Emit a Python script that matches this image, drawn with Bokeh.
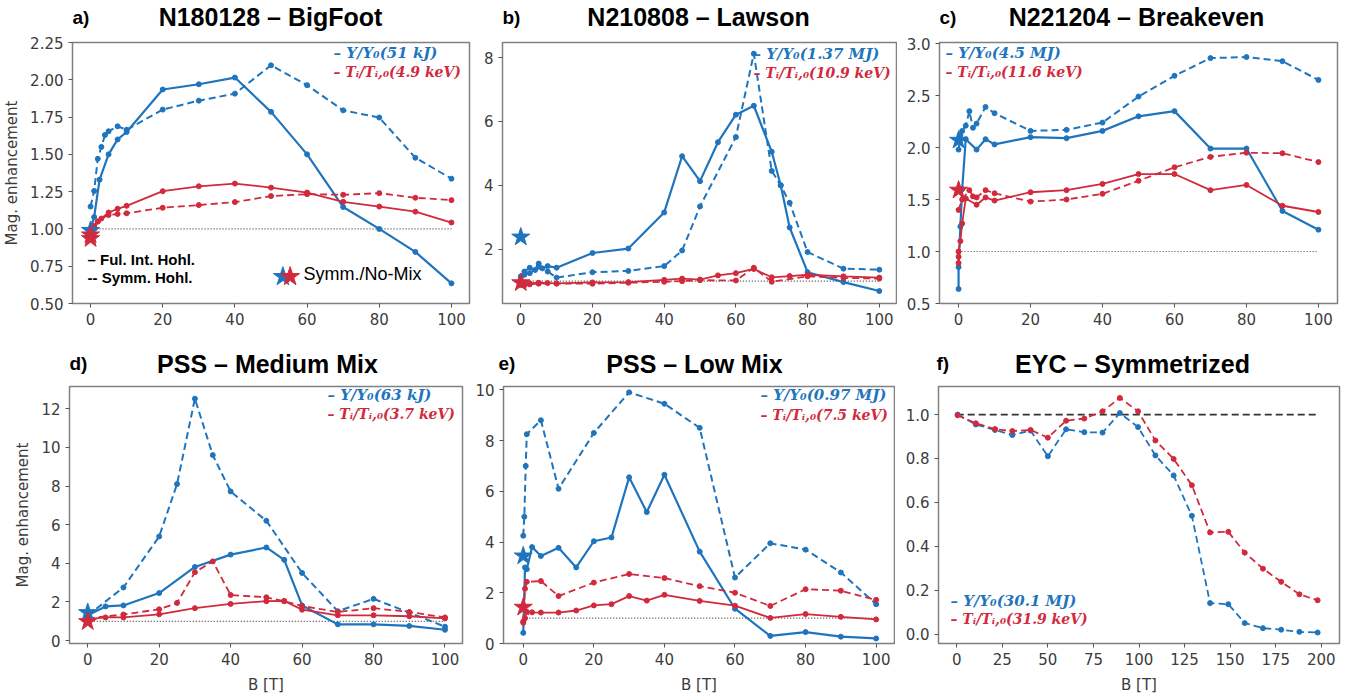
from bokeh.plotting import figure
from bokeh.models import Range1d, FixedTicker, PrintfTickFormatter, Label
from bokeh.layouts import row, column
from bokeh.embed import file_html
from bokeh.resources import INLINE

BLUE = "#1f75bd"
RED = "#d12a3d"

# ---------------- data ----------------
# a) N180128 - BigFoot
a_y_ful_B = [0, 1, 2.5, 5, 7.5, 10, 20, 30, 40, 50, 60, 70, 80, 90, 100]
a_y_ful = [1.0, 1.08, 1.33, 1.50, 1.60, 1.65, 1.935, 1.97, 2.015, 1.785, 1.50, 1.147, 1.0, 0.846, 0.635]
a_y_sym_B = [0, 1, 2, 3, 4, 5, 7.5, 10, 20, 30, 40, 50, 60, 70, 80, 90, 100]
a_y_sym = [1.15, 1.255, 1.47, 1.55, 1.63, 1.655, 1.688, 1.665, 1.80, 1.86, 1.907, 2.097, 1.964, 1.795, 1.747, 1.477, 1.337]
a_t_ful_B = [0, 1, 2, 5, 7.5, 10, 20, 30, 40, 50, 60, 70, 80, 90, 100]
a_t_ful = [0.96, 1.02, 1.05, 1.11, 1.135, 1.155, 1.253, 1.286, 1.304, 1.277, 1.244, 1.182, 1.15, 1.116, 1.043]
a_t_sym_B = [0, 1, 2, 3, 5, 7.5, 10, 20, 30, 40, 50, 60, 70, 80, 90, 100]
a_t_sym = [0.95, 1.0, 1.05, 1.07, 1.093, 1.10, 1.105, 1.142, 1.16, 1.18, 1.22, 1.233, 1.229, 1.24, 1.209, 1.193]
a_star_y_B, a_star_y = [0], [0.99]
a_star_t_B, a_star_t = [0, 0], [0.96, 0.935]

# b) N210808 - Lawson
b_y_ful_B = [0, 1, 2.5, 4, 5, 6, 7.5, 10, 20, 30, 40, 45, 50, 55, 60, 65, 70, 72.5, 75, 80, 90, 100]
b_y_ful = [1.15, 1.3, 1.42, 1.35, 1.55, 1.4, 1.47, 1.42, 1.88, 2.02, 3.15, 4.91, 4.13, 5.35, 6.21, 6.49, 5.05, 4.0, 2.68, 1.28, 0.97, 0.69]
b_y_sym_B = [0, 1, 2.5, 5, 7.5, 10, 20, 30, 40, 45, 50, 60, 65, 70, 72.5, 75, 80, 90, 100]
b_y_sym = [1.05, 1.2, 1.25, 1.45, 1.3, 1.11, 1.28, 1.32, 1.47, 1.96, 3.34, 5.51, 8.12, 4.45, 4.0, 3.45, 1.91, 1.39, 1.36]
b_t_ful_B = [0, 1, 2.5, 5, 7.5, 10, 20, 30, 40, 45, 50, 55, 60, 65, 70, 75, 80, 90, 100]
b_t_ful = [0.92, 0.9, 0.93, 0.95, 0.94, 0.93, 0.96, 0.97, 1.04, 1.08, 1.05, 1.18, 1.25, 1.38, 1.12, 1.16, 1.2, 1.15, 1.11]
b_t_sym_B = [0, 1, 2.5, 5, 10, 20, 30, 40, 45, 50, 60, 65, 70, 80, 90, 100]
b_t_sym = [0.88, 0.87, 0.9, 0.92, 0.92, 0.92, 0.95, 0.98, 1.0, 1.03, 1.02, 1.42, 0.98, 1.15, 1.1, 1.08]
b_star_y_B, b_star_y = [0], [2.38]
b_star_t_B, b_star_t = [0], [0.95]

# c) N221204 - Breakeven
c_y_ful_B = [0, 0, 0.5, 1, 2, 5, 7.5, 10, 20, 30, 40, 50, 60, 70, 80, 90, 100]
c_y_ful = [0.64, 0.85, 1.24, 1.6, 2.08, 1.98, 2.08, 2.03, 2.10, 2.09, 2.16, 2.30, 2.35, 1.99, 1.99, 1.39, 1.21]
c_y_sym_B = [0, 0.5, 1, 2, 3, 4, 5, 7.5, 10, 20, 30, 40, 50, 60, 70, 80, 90, 100]
c_y_sym = [1.98, 2.12, 2.16, 2.21, 2.35, 2.19, 2.23, 2.39, 2.33, 2.16, 2.17, 2.24, 2.49, 2.69, 2.86, 2.87, 2.83, 2.65]
c_t_ful_B = [0, 0, 0, 0.5, 1, 2, 5, 7.5, 10, 20, 30, 40, 50, 60, 70, 80, 90, 100]
c_t_ful = [0.89, 0.95, 1.0, 1.1, 1.27, 1.51, 1.45, 1.52, 1.49, 1.57, 1.59, 1.65, 1.745, 1.745, 1.59, 1.64, 1.44, 1.38]
c_t_sym_B = [0, 1, 3, 4, 5, 7.5, 10, 20, 30, 40, 50, 60, 70, 80, 90, 100]
c_t_sym = [1.40, 1.5, 1.59, 1.53, 1.52, 1.59, 1.56, 1.48, 1.50, 1.555, 1.68, 1.81, 1.91, 1.95, 1.945, 1.86]
c_star_y_B, c_star_y = [0], [2.07]
c_star_t_B, c_star_t = [0], [1.59]

# d) PSS - Medium Mix
d_y_ful_B = [0, 5, 10, 20, 30, 40, 50, 55, 60, 70, 80, 90, 100]
d_y_ful = [1.31, 1.77, 1.82, 2.46, 3.81, 4.45, 4.82, 4.18, 1.82, 0.84, 0.84, 0.76, 0.56]
d_y_sym_B = [0, 10, 20, 25, 30, 35, 40, 50, 60, 70, 80, 90, 100]
d_y_sym = [1.3, 2.75, 5.39, 8.1, 12.52, 9.6, 7.72, 6.2, 3.5, 1.52, 2.16, 1.45, 0.72]
d_t_ful_B = [0, 5, 10, 20, 30, 40, 50, 55, 60, 70, 80, 90, 100]
d_t_ful = [1.11, 1.2, 1.2, 1.36, 1.68, 1.9, 2.04, 2.05, 1.6, 1.31, 1.31, 1.26, 1.15]
d_t_sym_B = [0, 10, 20, 25, 30, 35, 40, 50, 55, 60, 70, 80, 90, 100]
d_t_sym = [1.15, 1.35, 1.62, 1.95, 3.54, 4.1, 2.36, 2.24, 2.04, 1.79, 1.48, 1.68, 1.48, 1.2]
d_star_y_B, d_star_y = [0], [1.45]
d_star_t_B, d_star_t = [0], [0.98]

# e) PSS - Low Mix
e_y_ful_B = [0, 0.5, 1, 2.5, 5, 10, 15, 20, 25, 30, 35, 40, 50, 60, 70, 80, 90, 100]
e_y_ful = [0.42, 3.0, 2.93, 3.8, 3.45, 3.77, 3.0, 4.03, 4.18, 6.55, 5.18, 6.65, 3.62, 1.37, 0.3, 0.45, 0.27, 0.2]
e_y_sym_B = [0, 0.3, 0.7, 1, 5, 10, 20, 30, 40, 50, 60, 70, 80, 90, 100]
e_y_sym = [4.25, 5.0, 7.0, 8.25, 8.8, 6.1, 8.3, 9.9, 9.45, 8.5, 2.6, 3.95, 3.7, 2.8, 1.55]
e_t_ful_B = [0, 0.5, 1, 2.5, 5, 10, 15, 20, 25, 30, 35, 40, 50, 60, 70, 80, 90, 100]
e_t_ful = [0.82, 1.0, 1.25, 1.23, 1.22, 1.22, 1.3, 1.5, 1.55, 1.87, 1.69, 1.92, 1.68, 1.49, 1.01, 1.16, 1.05, 0.95]
e_t_sym_B = [0, 0.5, 1, 5, 10, 20, 30, 40, 50, 60, 70, 80, 90, 100]
e_t_sym = [0.87, 2.16, 2.43, 2.46, 1.87, 2.4, 2.74, 2.58, 2.26, 2.0, 1.48, 2.14, 2.08, 1.72]
e_star_y_B, e_star_y = [0], [3.45]
e_star_t_B, e_star_t = [0], [1.43]

# f) EYC - Symmetrized
f_B = [0.5, 10.5, 21, 30.5, 40.5, 50, 60, 70, 80, 89.5, 99.5, 109, 119, 129, 139, 149, 158, 168, 178, 188, 198]
f_Y = [1.0, 0.955, 0.93, 0.907, 0.927, 0.81, 0.933, 0.92, 0.918, 1.007, 0.943, 0.814, 0.723, 0.539, 0.141, 0.136, 0.05, 0.027, 0.02, 0.01, 0.007]
f_T = [0.997, 0.96, 0.934, 0.925, 0.93, 0.895, 0.972, 0.982, 1.015, 1.076, 1.015, 0.882, 0.798, 0.678, 0.463, 0.466, 0.371, 0.298, 0.238, 0.181, 0.154]

ref_x_100 = [0, 100]
ref_x_200 = [0, 198]
ref_y = [1, 1]

titles = ["N180128 \u2013 BigFoot", "N210808 \u2013 Lawson", "N221204 \u2013 Breakeven",
          "PSS \u2013 Medium Mix", "PSS \u2013 Low Mix", "EYC \u2013 Symmetrized"]
panel_tags = ["a)", "b)", "c)", "d)", "e)", "f)"]
yield_labels = ["\u2013 Y/Y\u2080(51 kJ)", "\u2013 Y/Y\u2080(1.37 MJ)", "\u2013 Y/Y\u2080(4.5 MJ)",
                "\u2013 Y/Y\u2080(63 kJ)", "\u2013 Y/Y\u2080(0.97 MJ)", "\u2013 Y/Y\u2080(30.1 MJ)"]
temp_labels = ["\u2013 T\u1d62/T\u1d62,\u2080(4.9 keV)", "\u2013 T\u1d62/T\u1d62,\u2080(10.9 keV)",
               "\u2013 T\u1d62/T\u1d62,\u2080(11.6 keV)", "\u2013 T\u1d62/T\u1d62,\u2080(3.7 keV)",
               "\u2013 T\u1d62/T\u1d62,\u2080(7.5 keV)", "\u2013 T\u1d62/T\u1d62,\u2080(31.9 keV)"]
x_ticks_100 = [0, 20, 40, 60, 80, 100]
x_ticks_200 = [0, 25, 50, 75, 100, 125, 150, 175, 200]

TXT = "#3c3c3c"


def make_fig(width, height, mbl, mbr, mbt, mbb, xr, yr, yticks, yfmt, xticks):
    p = figure(width=width, height=height, x_range=Range1d(*xr), y_range=Range1d(*yr),
               output_backend="svg", toolbar_location=None,
               min_border_left=mbl, min_border_right=mbr,
               min_border_top=mbt, min_border_bottom=mbb)
    p.xgrid.visible = False
    p.ygrid.visible = False
    p.outline_line_color = "#808080"
    p.outline_line_width = 1.5
    p.background_fill_color = "white"
    p.border_fill_color = "white"
    for ax in (p.xaxis[0], p.yaxis[0]):
        ax.axis_line_color = None
        ax.major_tick_line_color = "#555555"
        ax.major_tick_out = 4
        ax.major_tick_in = 0
        ax.minor_tick_line_color = None
        ax.major_label_text_font = "DejaVu Sans"
        ax.major_label_text_font_size = "15px"
        ax.major_label_text_color = TXT
        ax.major_label_standoff = 5
        ax.axis_label_text_font = "DejaVu Sans"
        ax.axis_label_text_font_size = "15px"
        ax.axis_label_text_font_style = "normal"
        ax.axis_label_text_color = TXT
    p.xaxis.ticker = FixedTicker(ticks=xticks)
    p.yaxis.ticker = FixedTicker(ticks=yticks)
    p.yaxis.formatter = PrintfTickFormatter(format=yfmt)
    p.yaxis.axis_label_standoff = 6
    p.xaxis.axis_label_standoff = 8
    return p


def series(p, B, v, color, dashed, lw):
    p.line(B, v, line_color=color, line_width=lw, line_dash="7 4" if dashed else "solid")
    p.scatter(B, v, size=5, color=color)


def legend(p, idx, leg_x, leg_y, leg_dy=19):
    p.add_layout(Label(x=leg_x, y=leg_y, x_units="screen", y_units="screen", text=yield_labels[idx],
                       text_font="DejaVu Serif", text_font_style="bold italic", text_font_size="15px",
                       text_baseline="middle", text_align="left", text_color=BLUE))
    p.add_layout(Label(x=leg_x, y=leg_y - leg_dy, x_units="screen", y_units="screen", text=temp_labels[idx],
                       text_font="DejaVu Serif", text_font_style="bold italic", text_font_size="14px",
                       text_baseline="middle", text_align="left", text_color=RED))


def std_panel(p, yf_B, yf, ys_B, ys, tf_B, tf, ts_B, ts, sy_B, sy, st_B, st):
    p.line(ref_x_100, ref_y, line_color="#444444", line_width=1.2, line_dash="1 2")
    series(p, yf_B, yf, BLUE, False, 2.2)
    series(p, ys_B, ys, BLUE, True, 2.0)
    series(p, tf_B, tf, RED, False, 1.8)
    series(p, ts_B, ts, RED, True, 1.8)
    p.scatter(sy_B, sy, marker="star", size=19, color=BLUE)
    p.scatter(st_B, st, marker="star", size=19, color=RED)


def title_strip(height, idxs, tag_xs, title_xs, yc):
    s = figure(width=1356, height=height, x_range=Range1d(0, 1356), y_range=Range1d(0, height),
               output_backend="svg", toolbar_location=None, min_border=0)
    s.axis.visible = False
    s.grid.visible = False
    s.outline_line_color = None
    s.border_fill_color = "white"
    for i, tx, cx in zip(idxs, tag_xs, title_xs):
        s.add_layout(Label(x=tx, y=yc, text=panel_tags[i], text_font="Liberation Sans",
                           text_font_style="bold", text_font_size="19px", text_baseline="middle",
                           text_align="left", text_color="black"))
        s.add_layout(Label(x=cx, y=yc, text=titles[i], text_font="Liberation Sans",
                           text_font_style="bold", text_font_size="25px", text_baseline="middle",
                           text_align="center", text_color="black"))
    return s


# ---------------- panel a ----------------
pa = make_fig(475, 294, 72, 6, 6, 24, (-5, 105), (0.5, 2.25),
              [0.5, 0.75, 1.0, 1.25, 1.5, 1.75, 2.0, 2.25], "%.2f", x_ticks_100)
pa.yaxis.axis_label = "Mag. enhancement"
std_panel(pa, a_y_ful_B, a_y_ful, a_y_sym_B, a_y_sym, a_t_ful_B, a_t_ful, a_t_sym_B, a_t_sym,
          a_star_y_B, a_star_y, a_star_t_B, a_star_t)
legend(pa, 0, 261, 251)
pa.add_layout(Label(x=15, y=44, x_units="screen", y_units="screen", text="\u2013 Ful. Int. Hohl.",
                    text_font="Liberation Sans", text_font_style="bold", text_font_size="15px",
                    text_baseline="middle", text_color="black"))
pa.add_layout(Label(x=15, y=26, x_units="screen", y_units="screen", text="-- Symm. Hohl.",
                    text_font="Liberation Sans", text_font_style="bold", text_font_size="15px",
                    text_baseline="middle", text_color="black"))
key_star_x = [53.3, 55.3]
key_star_y = [0.68, 0.68]
pa.scatter(key_star_x[:1], key_star_y[:1], marker="star", size=20, color=BLUE)
pa.scatter(key_star_x[1:], key_star_y[1:], marker="star", size=20, color=RED)
pa.add_layout(Label(x=231, y=30, x_units="screen", y_units="screen", text="Symm./No-Mix",
                    text_font="Liberation Sans", text_font_size="18px",
                    text_baseline="middle", text_color="black"))

# ---------------- panel b ----------------
pb = make_fig(422, 294, 27, 1, 5, 27, (-5.1, 104.8), (0.3, 8.47), [2, 4, 6, 8], "%d", x_ticks_100)
std_panel(pb, b_y_ful_B, b_y_ful, b_y_sym_B, b_y_sym, b_t_ful_B, b_t_ful, b_t_sym_B, b_t_sym,
          b_star_y_B, b_star_y, b_star_t_B, b_star_t)
legend(pb, 1, 251, 250)

# ---------------- panel c ----------------
pc = make_fig(459, 294, 42, 19, 3, 26, (-5.3, 105.3), (0.5, 3.01),
              [0.5, 1.0, 1.5, 2.0, 2.5, 3.0], "%.1f", x_ticks_100)
std_panel(pc, c_y_ful_B, c_y_ful, c_y_sym_B, c_y_sym, c_t_ful_B, c_t_ful, c_t_sym_B, c_t_sym,
          c_star_y_B, c_star_y, c_star_t_B, c_star_t)
legend(pc, 2, 6, 251)

# ---------------- panel d ----------------
pd_ = make_fig(472, 316, 69, 10, 6, 47, (-5.1, 104.9), (-0.15, 13.15),
               [0, 2, 4, 6, 8, 10, 12], "%d", x_ticks_100)
pd_.yaxis.axis_label = "Mag. enhancement"
pd_.xaxis.axis_label = "B [T]"
std_panel(pd_, d_y_ful_B, d_y_ful, d_y_sym_B, d_y_sym, d_t_ful_B, d_t_ful, d_t_sym_B, d_t_sym,
          d_star_y_B, d_star_y, d_star_t_B, d_star_t)
legend(pd_, 3, 258, 249)

# ---------------- panel e ----------------
pe = make_fig(423, 316, 27, 1, 3, 50, (-5.6, 105.2), (0.0, 10.13),
              [0, 2, 4, 6, 8, 10], "%d", x_ticks_100)
pe.xaxis.axis_label = "B [T]"
std_panel(pe, e_y_ful_B, e_y_ful, e_y_sym_B, e_y_sym, e_t_ful_B, e_t_ful, e_t_sym_B, e_t_sym,
          e_star_y_B, e_star_y, e_star_t_B, e_star_t)
legend(pe, 4, 257, 249, 20)

# ---------------- panel f ----------------
pf = make_fig(461, 316, 43, 17, 3, 53, (-10, 210), (-0.043, 1.128),
              [0.0, 0.2, 0.4, 0.6, 0.8, 1.0], "%.1f", x_ticks_200)
pf.xaxis.axis_label = "B [T]"
pf.line(ref_x_200, ref_y, line_color="#333333", line_width=1.8, line_dash="7 4")
series(pf, f_B, f_Y, BLUE, True, 1.8)
series(pf, f_B, f_T, RED, True, 1.8)
legend(pf, 5, 12, 43, 18)

# ---------------- title strips ----------------
strip1 = title_strip(36, [0, 1, 2], [72, 502, 939], [270, 698, 1136], 19.5)
strip2 = title_strip(50, [3, 4, 5], [69, 498, 936], [267, 694, 1132], 17)

layout = column(strip1, row(pa, pb, pc), strip2, row(pd_, pe, pf))
open("out.html", "w").write(file_html(layout, INLINE))
